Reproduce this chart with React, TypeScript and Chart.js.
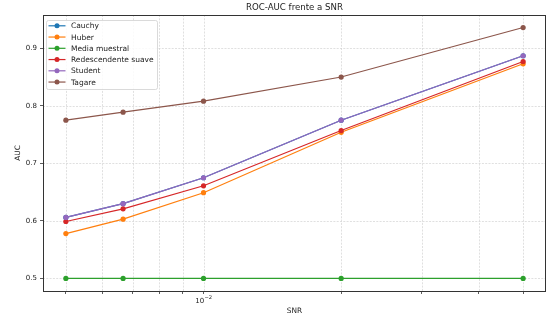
import React, { useEffect, useRef } from "react";
import { Chart, registerables } from "chart.js";

Chart.register(...registerables);

// SNR sample points (log axis)
const SNR = [0.005, 0.00667, 0.01, 0.02, 0.05];

// ROC-AUC per estimator
const CAUCHY = [0.606, 0.63, 0.675, 0.775, 0.887];
const HUBER = [0.578, 0.603, 0.649, 0.754, 0.873];
const MEDIA = [0.5, 0.5, 0.5, 0.5, 0.5];
const REDESCENDENTE = [0.599, 0.621, 0.661, 0.757, 0.877];
const STUDENT = [0.606, 0.63, 0.675, 0.775, 0.887];
const TAGARE = [0.775, 0.789, 0.808, 0.85, 0.936];

const SERIES_NAMES = ["Cauchy", "Huber", "Media muestral", "Redescendente suave", "Student", "Tagare"];
const SERIES_VALUES = [CAUCHY, HUBER, MEDIA, REDESCENDENTE, STUDENT, TAGARE];
const COLORS = ["#1f77b4", "#ff7f0e", "#2ca02c", "#d62728", "#9467bd", "#8c564b"];

// Tick positions
const X_TICKS = [0.005, 0.006, 0.007, 0.008, 0.009, 0.01, 0.02, 0.03, 0.04, 0.05];
const X_LABELED = 0.01;
const X_LABEL_BASE = "10";
const X_LABEL_EXP = "\u22122";
const Y_TICKS = [0.5, 0.6, 0.7, 0.8, 0.9];

const TITLE = "ROC-AUC frente a SNR";
const X_TITLE = "SNR";
const Y_TITLE = "AUC";

const FONT = '"DejaVu Sans", sans-serif';

export default function App() {
  const ref = useRef<HTMLCanvasElement | null>(null);

  useEffect(() => {
    document.body.style.margin = "0";
    const canvas = ref.current;
    if (!canvas) return;

    // 5% margins like matplotlib autoscale
    const allY = SERIES_VALUES.flat();
    const yMin0 = Math.min(...allY);
    const yMax0 = Math.max(...allY);
    const yPad = (yMax0 - yMin0) * 0.05;
    const lx0 = Math.log10(Math.min(...SNR));
    const lx1 = Math.log10(Math.max(...SNR));
    const lxPad = (lx1 - lx0) * 0.05;

    const framePlugin = {
      id: "frame",
      beforeDatasetsDraw(chart: any) {
        const { ctx, chartArea: a, scales } = chart;
        ctx.save();
        ctx.strokeStyle = "#d2d2d2";
        ctx.lineWidth = 0.7;
        ctx.setLineDash([2, 1.3]);
        for (const v of X_TICKS) {
          const px = Math.round(scales.x.getPixelForValue(v)) + 0.5;
          ctx.beginPath();
          ctx.moveTo(px, a.top);
          ctx.lineTo(px, a.bottom);
          ctx.stroke();
        }
        for (const v of Y_TICKS) {
          const py = Math.round(scales.y.getPixelForValue(v)) + 0.5;
          ctx.beginPath();
          ctx.moveTo(a.left, py);
          ctx.lineTo(a.right, py);
          ctx.stroke();
        }
        ctx.restore();
      },
      afterDraw(chart: any) {
        const { ctx, chartArea: a, scales } = chart;
        ctx.save();
        // spines
        ctx.strokeStyle = "#333";
        ctx.lineWidth = 1;
        ctx.strokeRect(Math.round(a.left) + 0.5, Math.round(a.top) + 0.5, Math.round(a.right - a.left) - 1, Math.round(a.bottom - a.top));

        // labelled x tick as base with raised exponent
        ctx.fillStyle = "#222";
        ctx.textBaseline = "alphabetic";
        ctx.textAlign = "left";
        ctx.font = `7px ${FONT}`;
        const wBase = ctx.measureText(X_LABEL_BASE).width;
        ctx.font = `5.2px ${FONT}`;
        const wExp = ctx.measureText(X_LABEL_EXP).width;
        const cx = scales.x.getPixelForValue(X_LABELED);
        const x0 = cx - (wBase + wExp) / 2;
        ctx.font = `7px ${FONT}`;
        ctx.fillText(X_LABEL_BASE, x0, 302.5);
        ctx.font = `5.2px ${FONT}`;
        ctx.fillText(X_LABEL_EXP, x0 + wBase + 0.3, 298.8);

        // title and axis titles
        ctx.textAlign = "center";
        ctx.textBaseline = "middle";
        ctx.font = `8.6px ${FONT}`;
        ctx.fillText(TITLE, (a.left + a.right) / 2, 8);
        ctx.font = `7.4px ${FONT}`;
        ctx.fillText(X_TITLE, (a.left + a.right) / 2, 311);
        ctx.save();
        ctx.translate(18, (a.top + a.bottom) / 2);
        ctx.rotate(-Math.PI / 2);
        ctx.fillText(Y_TITLE, 0, 0);
        ctx.restore();

        // legend
        const bx = 46.5, by = 20.5, bw = 111, bh = 69;
        ctx.beginPath();
        ctx.roundRect(bx, by, bw, bh, 2);
        ctx.fillStyle = "rgba(255,255,255,0.85)";
        ctx.fill();
        ctx.strokeStyle = "#d0d0d0";
        ctx.lineWidth = 0.8;
        ctx.stroke();
        ctx.font = `7.5px ${FONT}`;
        ctx.textAlign = "left";
        SERIES_NAMES.forEach((name, i) => {
          const y = 25.8 + i * 11.25;
          ctx.strokeStyle = COLORS[i];
          ctx.lineWidth = 1.2;
          ctx.beginPath();
          ctx.moveTo(48.5, y);
          ctx.lineTo(65.5, y);
          ctx.stroke();
          ctx.fillStyle = COLORS[i];
          ctx.beginPath();
          ctx.arc(57, y, 2.5, 0, Math.PI * 2);
          ctx.fill();
          ctx.fillStyle = "#222";
          ctx.fillText(name, 71, y + 0.5);
        });
        ctx.restore();
      },
    };

    const chart = new Chart(canvas, {
      type: "line",
      data: {
        datasets: SERIES_NAMES.map((name, i) => ({
          label: name,
          data: SNR.map((x, j) => ({ x, y: SERIES_VALUES[i][j] })),
          borderColor: COLORS[i],
          backgroundColor: COLORS[i],
          pointBackgroundColor: COLORS[i],
          pointBorderWidth: 0,
          pointRadius: 2.6,
          borderWidth: 1.2,
          tension: 0,
          order: SERIES_NAMES.length - i,
        })),
      },
      options: {
        responsive: false,
        animation: false,
        layout: { padding: { top: 15, right: 2, left: 0, bottom: 0 } },
        plugins: { legend: { display: false }, title: { display: false }, tooltip: { enabled: false } },
        scales: {
          x: {
            type: "logarithmic",
            min: Math.pow(10, lx0 - lxPad),
            max: Math.pow(10, lx1 + lxPad),
            afterBuildTicks: (s: any) => {
              s.ticks = X_TICKS.map((v) => ({ value: v, major: v === X_LABELED }));
            },
            afterFit: (s: any) => {
              s.height = 31;
            },
            ticks: {
              autoSkip: false,
              maxRotation: 0,
              padding: 2,
              color: "#222",
              font: { family: FONT, size: 7 },
              callback: () => "",
            },
            grid: { drawOnChartArea: false, drawTicks: true, tickLength: 3, color: "#333", lineWidth: 0.8 },
            border: { display: false },
          },
          y: {
            type: "linear",
            min: yMin0 - yPad,
            max: yMax0 + yPad,
            afterBuildTicks: (s: any) => {
              s.ticks = Y_TICKS.map((v) => ({ value: v }));
            },
            afterFit: (s: any) => {
              s.width = 43;
            },
            ticks: {
              padding: 3,
              color: "#222",
              font: { family: FONT, size: 7 },
              callback: (v: any) => Number(v).toFixed(1),
            },
            grid: { drawOnChartArea: false, drawTicks: true, tickLength: 3, color: "#333", lineWidth: 0.8 },
            border: { display: false },
          },
        },
      },
      plugins: [framePlugin],
    } as any);

    return () => chart.destroy();
  }, []);

  return (
    <div style={{ width: 550, height: 322 }}>
      <canvas ref={ref} width={550} height={322} />
    </div>
  );
}
